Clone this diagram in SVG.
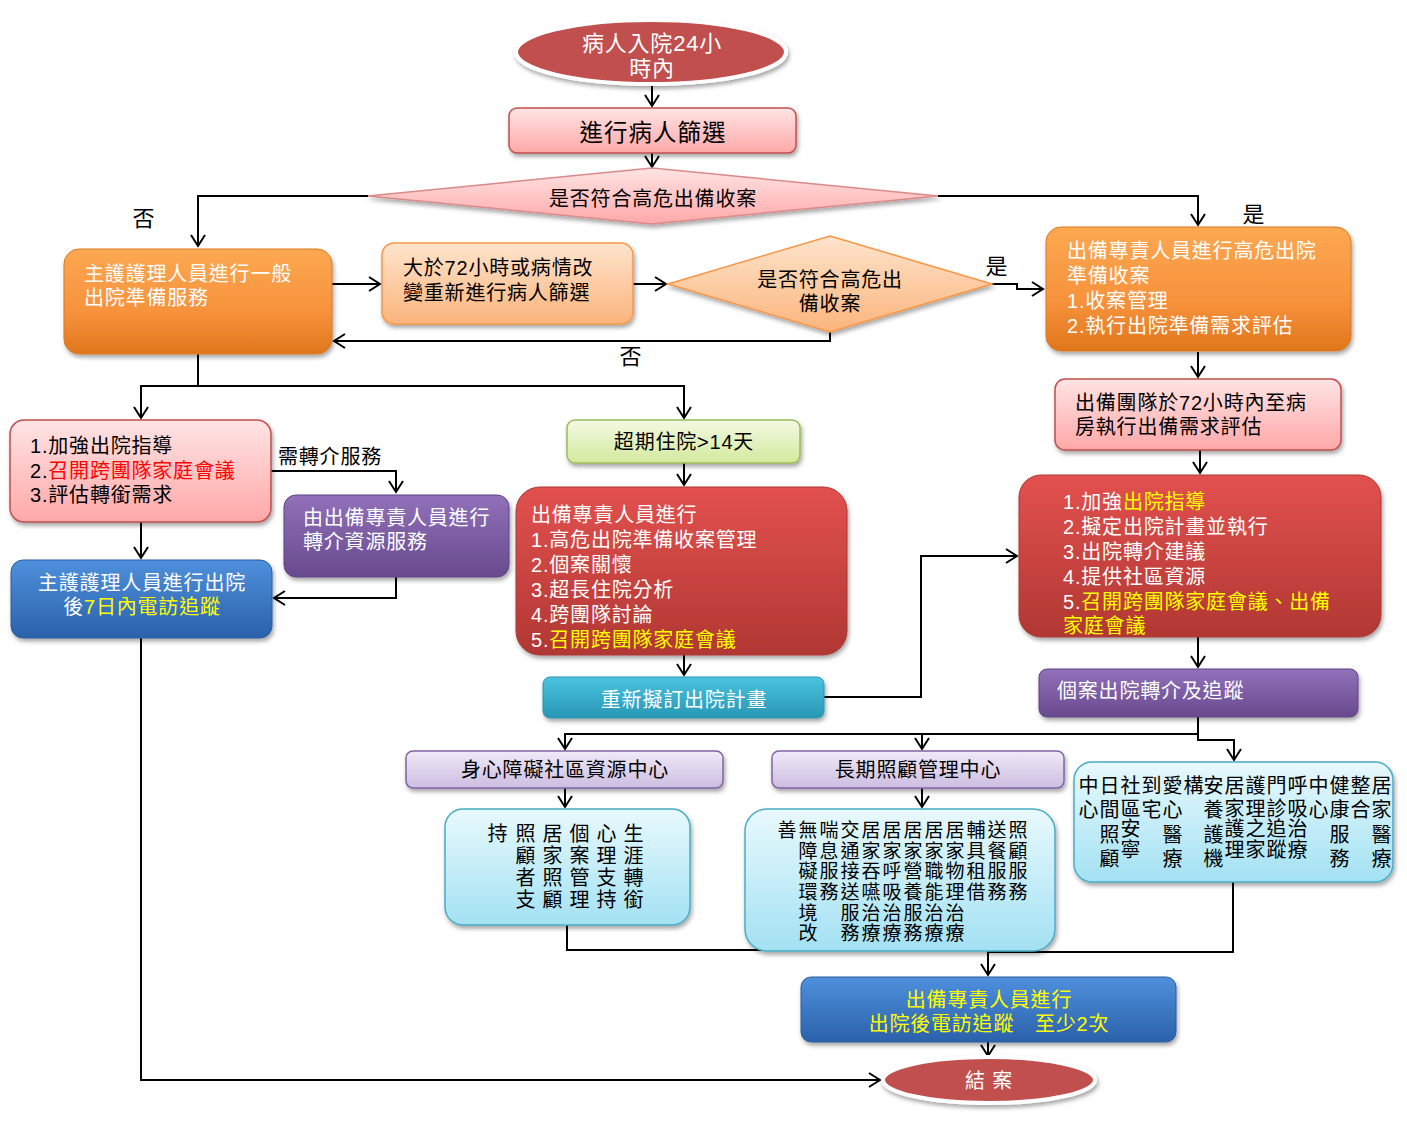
<svg xmlns="http://www.w3.org/2000/svg" width="1407" height="1124" viewBox="0 0 1407 1124">
<defs>
<style>
text{font-family:"Liberation Sans","Noto Sans CJK TC","Noto Sans CJK SC",sans-serif;font-size:20px;letter-spacing:0.8px;}
.w{fill:#ffffff;}
.k{fill:#000000;}
.y{fill:#ffff00;}
.r{fill:#ff0000;}
.c{text-anchor:middle;}
.va{writing-mode:vertical-rl;font-size:20px;letter-spacing:2px;fill:#000;}
.vb{writing-mode:vertical-rl;font-size:19px;letter-spacing:1.6px;fill:#000;}
.vc{writing-mode:vertical-rl;font-size:20px;letter-spacing:4.5px;fill:#000;}
.vd{writing-mode:vertical-rl;font-size:20px;letter-spacing:3px;fill:#000;}
.ls{letter-spacing:1.5px;}
.lbl{font-size:22px;fill:#000;text-anchor:middle;}
.ln{fill:none;stroke:#000;stroke-width:2;}
.ar{marker-end:url(#arr);}
</style>
<marker id="arr" markerUnits="userSpaceOnUse" markerWidth="18" markerHeight="18" refX="13" refY="8" orient="auto">
<path d="M2,1 L13,8 L2,15" fill="none" stroke="#000" stroke-width="2"/>
</marker>
<filter id="sh" x="-10%" y="-10%" width="125%" height="140%">
<feDropShadow dx="1.5" dy="3" stdDeviation="2" flood-color="#000" flood-opacity="0.35"/>
</filter>
<linearGradient id="gPink" x1="0" y1="0" x2="0" y2="1"><stop offset="0" stop-color="#ffe4e4"/><stop offset="1" stop-color="#ffa8a8"/></linearGradient>
<linearGradient id="gOrange" x1="0" y1="0" x2="0" y2="1"><stop offset="0" stop-color="#fda852"/><stop offset="0.6" stop-color="#f7923c"/><stop offset="1" stop-color="#e0761c"/></linearGradient>
<linearGradient id="gLOrange" x1="0" y1="0" x2="0" y2="1"><stop offset="0" stop-color="#fee4cc"/><stop offset="1" stop-color="#fbb47c"/></linearGradient>
<linearGradient id="gRed" x1="0" y1="0" x2="0" y2="1"><stop offset="0" stop-color="#e2514e"/><stop offset="1" stop-color="#b13733"/></linearGradient>
<linearGradient id="gPurple" x1="0" y1="0" x2="0" y2="1"><stop offset="0" stop-color="#9171b9"/><stop offset="1" stop-color="#684a8e"/></linearGradient>
<linearGradient id="gBlue" x1="0" y1="0" x2="0" y2="1"><stop offset="0" stop-color="#4e90dc"/><stop offset="1" stop-color="#2b61aa"/></linearGradient>
<linearGradient id="gGreen" x1="0" y1="0" x2="0" y2="1"><stop offset="0" stop-color="#f3f9e4"/><stop offset="1" stop-color="#d3ea9c"/></linearGradient>
<linearGradient id="gTeal" x1="0" y1="0" x2="0" y2="1"><stop offset="0" stop-color="#4ac3df"/><stop offset="1" stop-color="#2897b5"/></linearGradient>
<linearGradient id="gLav" x1="0" y1="0" x2="0" y2="1"><stop offset="0" stop-color="#f1eaf8"/><stop offset="1" stop-color="#cbbde0"/></linearGradient>
<linearGradient id="gCyan" x1="0" y1="0" x2="0" y2="1"><stop offset="0" stop-color="#e8f9fd"/><stop offset="1" stop-color="#a3e1f3"/></linearGradient>
</defs>
<rect x="0" y="0" width="1407" height="1124" fill="#ffffff"/>

<g id="connectors">
<path class="ln ar" d="M652,86 V106"/>
<path class="ln ar" d="M652,153 V167"/>
<path class="ln ar" d="M368,196 H198 V246"/>
<path class="ln ar" d="M938,196 H1198 V225"/>
<path class="ln ar" d="M332,284 H380"/>
<path class="ln ar" d="M633,284 H666"/>
<path class="ln ar" d="M992,284 H1017 V289 H1043"/>
<path class="ln ar" d="M830,332 V341 H334"/>
<path class="ln ar" d="M198,354 V386 H141 V418"/>
<path class="ln ar" d="M198,386 H684 V418"/>
<path class="ln ar" d="M141,522 V558"/>
<path class="ln ar" d="M271,471 H396 V492"/>
<path class="ln ar" d="M396,577 V598 H274"/>
<path class="ln ar" d="M684,463 V485"/>
<path class="ln ar" d="M684,655 V675"/>
<path class="ln ar" d="M824,697 H921 V556 H1017"/>
<path class="ln ar" d="M1198,352 V377"/>
<path class="ln ar" d="M1200,450 V473"/>
<path class="ln ar" d="M1198,637 V667"/>
<path class="ln ar" d="M1198,717 V734 H565 V749"/>
<path class="ln ar" d="M922,734 V749"/>
<path class="ln ar" d="M1198,734 V740 H1234 V760"/>
<path class="ln ar" d="M565,788 V807"/>
<path class="ln ar" d="M922,788 V807"/>
<path class="ln ar" d="M567,925 V950 H988 V975"/>
<path class="ln" d="M1233,882 V952 H988"/>
<path class="ln ar" d="M988,1042 V1056"/>
<path class="ln ar" d="M141,638 V1080 H880"/>
<text class="lbl" x="144" y="226">否</text>
<text class="lbl" x="1254" y="222">是</text>
<text class="lbl" x="997" y="274">是</text>
<text class="lbl" x="631" y="364">否</text>
<text class="k" x="278" y="464">需轉介服務</text>
</g>

<g id="start">
<ellipse cx="651" cy="52" rx="135" ry="32" fill="#c0504d" stroke="#ffffff" stroke-width="4" filter="url(#sh)"/>
<text class="w c" style="font-size:22px"><tspan x="652" y="51">病人入院24小</tspan><tspan x="652" y="76">時內</tspan></text>
</g>

<g id="screen">
<rect x="509" y="108" width="287" height="45" rx="8" fill="url(#gPink)" stroke="#c0504d" stroke-width="1.5" filter="url(#sh)"/>
<text class="k c" x="653" y="141" style="font-size:23.5px;letter-spacing:1px">進行病人篩選</text>
</g>

<g id="decision1">
<polygon points="368,196 652,168 938,196 652,224" fill="url(#gPink)" stroke="#d98a8a" stroke-width="1.5" filter="url(#sh)"/>
<text class="k c" x="653" y="206">是否符合高危出備收案</text>
</g>

<g id="general">
<rect x="64" y="249" width="268" height="105" rx="15" fill="url(#gOrange)" stroke="#d87a25" stroke-width="1" filter="url(#sh)"/>
<text class="w"><tspan x="84" y="281">主護護理人員進行一般</tspan><tspan x="84" y="305">出院準備服務</tspan></text>
</g>

<g id="rescreen">
<rect x="382" y="243" width="251" height="81" rx="12" fill="url(#gLOrange)" stroke="#f79646" stroke-width="1.5" filter="url(#sh)"/>
<text class="k"><tspan x="403" y="275">大於72小時或病情改</tspan><tspan x="403" y="300">變重新進行病人篩選</tspan></text>
</g>

<g id="decision2">
<polygon points="668,284 830,236 992,284 830,332" fill="url(#gLOrange)" stroke="#f79646" stroke-width="1.5" filter="url(#sh)"/>
<text class="k c"><tspan x="830" y="287">是否符合高危出</tspan><tspan x="830" y="311">備收案</tspan></text>
</g>

<g id="highrisk">
<rect x="1046" y="227" width="305" height="124" rx="15" fill="url(#gOrange)" stroke="#d87a25" stroke-width="1" filter="url(#sh)"/>
<text class="w"><tspan x="1067" y="258">出備專責人員進行高危出院</tspan><tspan x="1067" y="283">準備收案</tspan><tspan x="1067" y="308">1.收案管理</tspan><tspan x="1067" y="333">2.執行出院準備需求評估</tspan></text>
</g>

<g id="team72">
<rect x="1055" y="379" width="286" height="71" rx="10" fill="url(#gPink)" stroke="#c0504d" stroke-width="1.5" filter="url(#sh)"/>
<text class="k"><tspan x="1075" y="410">出備團隊於72小時內至病</tspan><tspan x="1075" y="434">房執行出備需求評估</tspan></text>
</g>

<g id="plan-right">
<rect x="1019" y="475" width="362" height="162" rx="22" fill="url(#gRed)" stroke="#a93a36" stroke-width="1" filter="url(#sh)"/>
<text class="w"><tspan x="1063" y="509">1.加強<tspan class="y">出院指導</tspan></tspan><tspan x="1063" y="534">2.擬定出院計畫並執行</tspan><tspan x="1063" y="559">3.出院轉介建議</tspan><tspan x="1063" y="584">4.提供社區資源</tspan><tspan x="1063" y="609">5.<tspan class="y">召開跨團隊家庭會議、出備</tspan></tspan><tspan class="y" x="1063" y="633">家庭會議</tspan></text>
</g>

<g id="referral-track">
<rect x="1039" y="669" width="319" height="48" rx="8" fill="url(#gPurple)" stroke="#5f4586" stroke-width="1" filter="url(#sh)"/>
<text class="w" x="1057" y="698">個案出院轉介及追蹤</text>
</g>

<g id="guidance-left">
<rect x="10" y="420" width="261" height="102" rx="14" fill="url(#gPink)" stroke="#c0504d" stroke-width="1.5" filter="url(#sh)"/>
<text class="k"><tspan x="30" y="453">1.加強出院指導</tspan><tspan x="30" y="478">2.<tspan class="r">召開跨團隊家庭會議</tspan></tspan><tspan x="30" y="502">3.評估轉銜需求</tspan></text>
</g>

<g id="referral-service">
<rect x="284" y="495" width="225" height="82" rx="12" fill="url(#gPurple)" stroke="#5f4586" stroke-width="1" filter="url(#sh)"/>
<text class="w"><tspan x="303" y="525">由出備專責人員進行</tspan><tspan x="303" y="549">轉介資源服務</tspan></text>
</g>

<g id="phone7">
<rect x="11" y="560" width="261" height="78" rx="12" fill="url(#gBlue)" stroke="#2a5d9f" stroke-width="1" filter="url(#sh)"/>
<text class="w c"><tspan x="142" y="590">主護護理人員進行出院</tspan><tspan x="142" y="614">後<tspan class="y">7日內電訪追蹤</tspan></tspan></text>
</g>

<g id="overstay">
<rect x="567" y="420" width="233" height="43" rx="8" fill="url(#gGreen)" stroke="#9bbb59" stroke-width="1.5" filter="url(#sh)"/>
<text class="k c" x="684" y="449">超期住院&gt;14天</text>
</g>

<g id="case-mgmt">
<rect x="516" y="487" width="331" height="168" rx="24" fill="url(#gRed)" stroke="#a93a36" stroke-width="1" filter="url(#sh)"/>
<text class="w"><tspan x="531" y="522">出備專責人員進行</tspan><tspan x="531" y="547">1.高危出院準備收案管理</tspan><tspan x="531" y="572">2.個案關懷</tspan><tspan x="531" y="597">3.超長住院分析</tspan><tspan x="531" y="622">4.跨團隊討論</tspan><tspan x="531" y="647">5.<tspan class="y">召開跨團隊家庭會議</tspan></tspan></text>
</g>

<g id="replan">
<rect x="543" y="677" width="281" height="41" rx="7" fill="url(#gTeal)" stroke="#2b93b0" stroke-width="1" filter="url(#sh)"/>
<text class="w c" x="684" y="707">重新擬訂出院計畫</text>
</g>

<g id="disability-center">
<rect x="406" y="751" width="317" height="37" rx="7" fill="url(#gLav)" stroke="#8064a2" stroke-width="1.5" filter="url(#sh)"/>
<text class="k c" x="565" y="777">身心障礙社區資源中心</text>
</g>

<g id="ltc-center">
<rect x="772" y="751" width="292" height="37" rx="7" fill="url(#gLav)" stroke="#8064a2" stroke-width="1.5" filter="url(#sh)"/>
<text class="k c" x="918" y="777">長期照顧管理中心</text>
</g>

<g id="services1">
<rect x="445" y="809" width="245" height="116" rx="18" fill="url(#gCyan)" stroke="#4bacc6" stroke-width="1.5" filter="url(#sh)"/>
<text class="va" x="496" y="823">持</text>
<text class="va" x="524" y="823">照顧者支</text>
<text class="va" x="551" y="823">居家照顧</text>
<text class="va" x="578" y="823">個案管理</text>
<text class="va" x="605" y="823">心理支持</text>
<text class="va" x="632" y="823">生涯轉銜</text>
</g>

<g id="services2">
<rect x="745" y="809" width="310" height="142" rx="22" fill="url(#gCyan)" stroke="#4bacc6" stroke-width="1.5" filter="url(#sh)"/>
<text class="vb" x="785" y="820.5">善</text>
<text class="vb" x="806" y="820.5">無障礙環境改</text>
<text class="vb" x="827" y="820.5">喘息服務</text>
<text class="vb" x="848" y="820.5">交通接送服務</text>
<text class="vb" x="869" y="820.5">居家吞嚥治療</text>
<text class="vb" x="890" y="820.5">居家呼吸治療</text>
<text class="vb" x="911" y="820.5">居家營養服務</text>
<text class="vb" x="932" y="820.5">居家職能治療</text>
<text class="vb" x="953" y="820.5">居家物理治療</text>
<text class="vb" x="974" y="820.5">輔具租借</text>
<text class="vb" x="995" y="820.5">送餐服務</text>
<text class="vb" x="1016" y="820.5">照顧服務</text>
</g>

<g id="services3">
<rect x="1074" y="762" width="319" height="120" rx="18" fill="url(#gCyan)" stroke="#4bacc6" stroke-width="1.5" filter="url(#sh)"/>
<text class="vc" x="1087" y="775">中心</text>
<text class="vc" x="1108" y="775">日間照顧</text>
<text class="vd" x="1129" y="775">社區<tspan class="ls" x="1129" y="818">安寧</tspan></text>
<text class="vc" x="1150" y="775">到宅</text>
<text class="vc" x="1171" y="775">愛心醫療</text>
<text class="vc" x="1192" y="775">構</text>
<text class="vc" x="1212" y="775">安養護機</text>
<text class="vd" x="1233" y="775">居家<tspan class="ls" x="1233" y="818">護理</tspan></text>
<text class="vd" x="1254" y="775">護理<tspan class="ls" x="1254" y="818">之家</tspan></text>
<text class="vd" x="1275" y="775">門診<tspan class="ls" x="1275" y="818">追蹤</tspan></text>
<text class="vd" x="1296" y="775">呼吸<tspan class="ls" x="1296" y="818">治療</tspan></text>
<text class="vc" x="1317" y="775">中心</text>
<text class="vc" x="1338" y="775">健康服務</text>
<text class="vc" x="1359" y="775">整合</text>
<text class="vc" x="1380" y="775">居家醫療</text>
</g>

<g id="phone-followup">
<rect x="801" y="977" width="375" height="65" rx="10" fill="url(#gBlue)" stroke="#2a5d9f" stroke-width="1" filter="url(#sh)"/>
<text class="y c"><tspan x="989" y="1007">出備專責人員進行</tspan><tspan x="989" y="1031">出院後電訪追蹤　至少2次</tspan></text>
</g>

<g id="end">
<ellipse cx="989" cy="1080" rx="106" ry="23" fill="#c0504d" stroke="#ffffff" stroke-width="4" filter="url(#sh)"/>
<text class="w c" x="989" y="1088">結 案</text>
</g>
</svg>
